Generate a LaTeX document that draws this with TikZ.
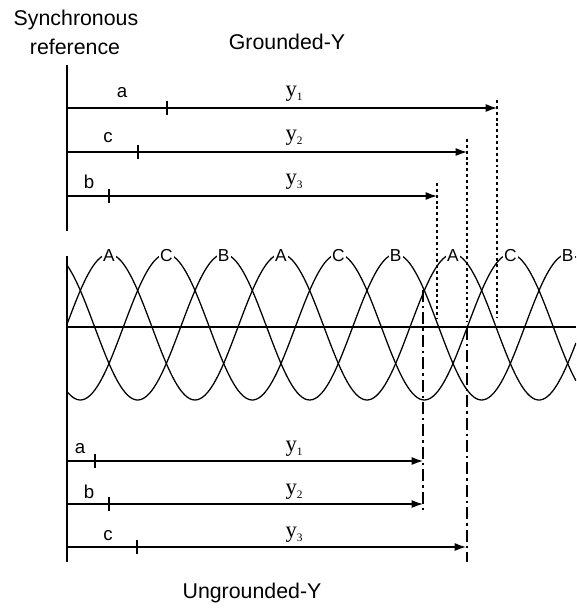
\documentclass[tikz,border=0pt]{standalone}
\usepackage{fontspec}
\setmainfont{Liberation Sans}
\newfontfamily\yfont{Liberation Serif}
\usetikzlibrary{arrows.meta}
\begin{document}
\begin{tikzpicture}[x=0.75pt,y=-0.75pt,line width=0.95pt,
  arr/.style={-{Latex[length=8.5pt,width=6pt]}},
  dotln/.style={line width=1.2pt,dash pattern=on 2.2pt off 2.2pt},
  dashdot/.style={line width=1.1pt,dash pattern=on 9pt off 3pt on 1.8pt off 3pt},
  lbl/.style={font=\fontsize{16}{18}\selectfont,inner sep=0pt},
  small/.style={font=\fontsize{14}{16}\selectfont,inner sep=0pt},
  ylbl/.style={font=\fontsize{17}{19}\yfont,inner sep=0pt},
  peak/.style={font=\fontsize{13}{15}\selectfont,fill=white,inner sep=1pt}]
\useasboundingbox (0,0) rectangle (576,608);
\newcommand{\yl}[1]{y\raisebox{-0.35ex}{\fontsize{8.5}{10}\selectfont #1}}
% titles
\node[lbl] (sync) at (76,20) {Synchronous};
\node[lbl] (refr) at (75,47) {reference};
\node[lbl] (gy) at (287,42) {Grounded-Y};
\node[lbl] (uy) at (252,593) {Ungrounded-Y};
% reference line
\coordinate (rT) at (67,65);
\coordinate (rM) at (67,231);
\coordinate (rW) at (67,256);
\coordinate (rB) at (67,562);
\draw (rT) -- (rM);
\draw (rW) -- (rB);
% waves
\begin{scope}
\clip (67,240) rectangle (576,420);
\draw plot[domain=67:576,samples=200,smooth] (\x,{327-73*cos(2.0930233*(\x-109))});
\draw plot[domain=67:576,samples=200,smooth] (\x,{327-73*cos(2.0930233*(\x-166.33))});
\draw plot[domain=67:576,samples=200,smooth] (\x,{327-73*cos(2.0930233*(\x-223.67))});
\end{scope}
\coordinate (ax0) at (67,327);
\coordinate (ax1) at (576,327);
\draw (ax0) -- (ax1);
\foreach \i/\t in {0/A,1/C,2/B,3/A,4/C,5/B,6/A,7/C,8/B}{
  \node[peak] (pk\i) at ({109+57.33*\i},256) {\t};
}
% grounded arrows
\coordinate (g1s) at (67,108); \coordinate (g1e) at (497,108); \coordinate (g1t) at (167,108);
\coordinate (g2s) at (67,152); \coordinate (g2e) at (467,152); \coordinate (g2t) at (138,152);
\coordinate (g3s) at (67,196); \coordinate (g3e) at (437,196); \coordinate (g3t) at (109,196);
\draw[arr] (g1s) -- (g1e);
\draw[arr] (g2s) -- (g2e);
\draw[arr] (g3s) -- (g3e);
\foreach \c in {g1t,g2t,g3t}{\draw ([yshift=5.5pt]\c) -- ([yshift=-5.5pt]\c);}
\node[small] (la1) at (122,93) {a};
\node[small] (lc1) at (108,138) {c};
\node[small] (lb1) at (89,182) {b};
\node[ylbl] (gy1) at (294,94) {\yl{1}};
\node[ylbl] (gy2) at (294,138) {\yl{2}};
\node[ylbl] (gy3) at (294,182) {\yl{3}};
% dotted verticals
\coordinate (d1t) at (497,100); \coordinate (d1b) at (497,318);
\coordinate (d2t) at (467,139); \coordinate (d2b) at (467,322);
\coordinate (d3t) at (437,183); \coordinate (d3b) at (437,318);
\draw[dotln] (d1t) -- (d1b);
\draw[dotln] (d2t) -- (d2b);
\draw[dotln] (d3t) -- (d3b);
% ungrounded arrows
\coordinate (u1s) at (67,461); \coordinate (u1e) at (423,461); \coordinate (u1t) at (95,461);
\coordinate (u2s) at (67,504); \coordinate (u2e) at (423,504); \coordinate (u2t) at (109,504);
\coordinate (u3s) at (67,547); \coordinate (u3e) at (466,547); \coordinate (u3t) at (137,547);
\draw[arr] (u1s) -- (u1e);
\draw[arr] (u2s) -- (u2e);
\draw[arr] (u3s) -- (u3e);
\foreach \c in {u1t,u2t,u3t}{\draw ([yshift=5.5pt]\c) -- ([yshift=-5.5pt]\c);}
\node[small] (la2) at (80,449) {a};
\node[small] (lb2) at (89,492) {b};
\node[small] (lc2) at (108,536) {c};
\node[ylbl] (uy1) at (294,449) {\yl{1}};
\node[ylbl] (uy2) at (294,492) {\yl{2}};
\node[ylbl] (uy3) at (294,535) {\yl{3}};
% dash-dot verticals
\coordinate (v1t) at (423,290); \coordinate (v1b) at (423,512);
\coordinate (v2t) at (467,328); \coordinate (v2b) at (467,562);
\draw[dashdot] (v1t) -- (v1b);
\draw[dashdot] (v2t) -- (v2b);
\end{tikzpicture}
\end{document}
